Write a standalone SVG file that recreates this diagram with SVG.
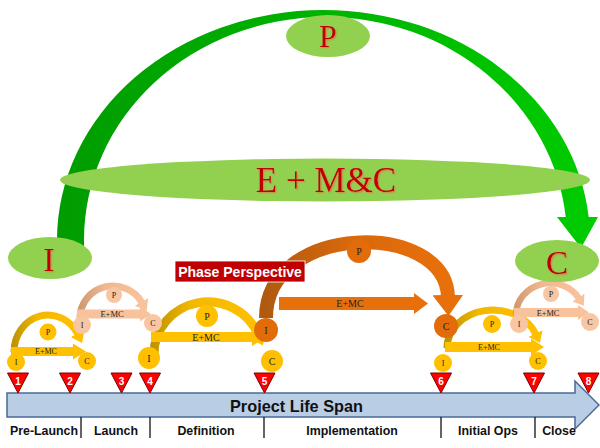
<svg xmlns="http://www.w3.org/2000/svg" width="600" height="448" viewBox="0 0 600 448">
<defs>
<style>
.big{font-family:"Liberation Serif",serif;fill:#c00000;text-anchor:middle;filter:url(#sh)}
.sm{font-family:"Liberation Serif",serif;fill:#222;text-anchor:middle}
.lbl{font-family:"Liberation Serif",serif;fill:#222;text-anchor:middle}
.ph{font-family:"Liberation Sans",Arial,sans-serif;font-weight:bold;font-size:12.4px;fill:#111;text-anchor:middle}
.num{font-family:"Liberation Sans",Arial,sans-serif;font-weight:bold;font-size:10px;fill:#fff;text-anchor:middle}
.tri{fill:#ff0000;stroke:#800000;stroke-width:1}
.gell{fill:#92d050}
.cy{fill:#ffc000}
.cp{fill:#f8c6a2}
.co{fill:#e36c0a}
.div{stroke:#111;stroke-width:1.3}
.crv{fill:none}
</style>
<filter id="sh" x="-20%" y="-20%" width="140%" height="140%">
<feDropShadow dx="1.3" dy="1.3" stdDeviation="0" flood-color="#c89050"/>
</filter>
<linearGradient id="gG" x1="0" y1="0" x2="1" y2="0">
<stop offset="0" stop-color="#009c00"/><stop offset="1" stop-color="#00cc00"/>
</linearGradient>
<linearGradient id="gY" x1="0" y1="0" x2="1" y2="0">
<stop offset="0" stop-color="#bf9400"/><stop offset="0.35" stop-color="#f2b800"/><stop offset="1" stop-color="#ffc000"/>
</linearGradient>
<linearGradient id="gP" x1="0" y1="0" x2="1" y2="0">
<stop offset="0" stop-color="#cf9a72"/><stop offset="0.4" stop-color="#f0b890"/><stop offset="1" stop-color="#f8c29c"/>
</linearGradient>
<linearGradient id="gO" x1="0" y1="0" x2="1" y2="0">
<stop offset="0" stop-color="#b05a10"/><stop offset="0.45" stop-color="#d8680c"/><stop offset="1" stop-color="#e8700a"/>
</linearGradient>
<marker id="mY" viewBox="0 0 10 10" refX="1" refY="5" markerWidth="1.5" markerHeight="2.2" orient="auto" preserveAspectRatio="none"><path d="M0,0 L10,5 L0,10 z" fill="#ffc000"/></marker>
<marker id="mP" viewBox="0 0 10 10" refX="1" refY="5" markerWidth="1.5" markerHeight="2.2" orient="auto" preserveAspectRatio="none"><path d="M0,0 L10,5 L0,10 z" fill="#f8c29c"/></marker>
<marker id="mO" viewBox="0 0 10 10" refX="1" refY="5" markerWidth="1.5" markerHeight="2.2" orient="auto" preserveAspectRatio="none"><path d="M0,0 L10,5 L0,10 z" fill="#e8700a"/></marker>
</defs>

<g id="connectors">
<path id="big-arc" d="M 57 250 L 57 240 A 266.5 230 0 0 1 323.5 10 A 266.5 230 0 0 1 588.664 217 L 598 217 L 581 248 L 557 217 L 565.712 217 A 241.5 223 0 0 0 325.5 17 A 241.5 223 0 0 0 84 240 L 84 250 Z" fill="url(#gG)"/>
<!-- group A -->
<path class="crv" d="M 14 352 A 34 37 0 0 1 78 334.6" stroke="url(#gY)" stroke-width="7" marker-end="url(#mY)"/>
<polygon points="11,347 73,347 73,343.5 86,351.5 73,359.5 73,356 11,356" fill="#ffc000"/>
<!-- group B -->
<path class="crv" d="M 80 318 A 33 32 0 0 1 142 302.7" stroke="url(#gP)" stroke-width="7" marker-end="url(#mP)"/>
<polygon points="77,309.5 140,309.5 140,306.5 151,314 140,321.5 140,318.5 77,318.5" fill="#f8c29c"/>
<!-- group C -->
<path class="crv" d="M 154 354 A 54 52 0 0 1 258 334.3" stroke="url(#gY)" stroke-width="9" marker-end="url(#mY)"/>
<polygon points="151,332 252,332 252,328 266,337 252,346 252,342 151,342" fill="#ffc000"/>
<!-- group D -->
<path class="crv" d="M 266 318 C 266 222 446 220 448 297" stroke="url(#gO)" stroke-width="14" marker-end="url(#mO)"/>
<polygon points="279,297 414,297 414,293 428,303.5 414,314 414,310 279,310" fill="#e8700a"/>
<!-- group E -->
<path class="crv" d="M 447 348 A 46 38 0 0 1 536 334.5" stroke="url(#gY)" stroke-width="7" marker-end="url(#mY)"/>
<polygon points="445,342 531,342 531,338.5 544,347 531,355.5 531,352 445,352" fill="#ffc000"/>
<!-- group F -->
<path class="crv" d="M 516 315 A 34 32 0 0 1 579 298.4" stroke="url(#gP)" stroke-width="6.5" marker-end="url(#mP)"/>
<polygon points="514,308 578,308 578,305 589,312.5 578,320 578,317 514,317" fill="#f8c29c"/>
</g>

<g id="labels-emc">
<text class="lbl" x="46" y="354" font-size="8">E+MC</text>
<text class="lbl" x="112" y="317" font-size="8.5">E+MC</text>
<text class="lbl" x="206" y="340.5" font-size="10">E+MC</text>
<text class="lbl" x="350" y="307" font-size="10">E+MC</text>
<text class="lbl" x="489" y="350" font-size="8">E+MC</text>
<text class="lbl" x="548" y="315.5" font-size="8.3">E+MC</text>
</g>

<g id="node-P"><ellipse class="gell" cx="328" cy="36" rx="42" ry="21"/><text class="big" x="328" y="47" font-size="32">P</text></g>
<g id="node-EMC"><ellipse class="gell" cx="325" cy="180" rx="265" ry="21.5"/><text class="big" x="326" y="192" font-size="35">E + M&amp;C</text></g>
<g id="node-I"><ellipse class="gell" cx="50" cy="258" rx="42" ry="21"/><text class="big" x="49" y="271" font-size="34">I</text></g>
<g id="node-C"><ellipse class="gell" cx="557" cy="261" rx="42" ry="21"/><text class="big" x="557" y="274" font-size="33">C</text></g>

<g id="nodes-A">
<g id="A-I"><circle class="cy" cx="16" cy="362" r="9"/><text class="sm" x="16" y="365" font-size="8">I</text></g>
<g id="A-P"><circle class="cy" cx="48" cy="332" r="8.5"/><text class="sm" x="48" y="335" font-size="8">P</text></g>
<g id="A-C"><circle class="cy" cx="87" cy="361" r="9"/><text class="sm" x="87" y="364" font-size="8">C</text></g>
</g>
<g id="nodes-B">
<g id="B-I"><circle class="cp" cx="82" cy="325" r="9"/><text class="sm" x="82" y="328" font-size="8">I</text></g>
<g id="B-P"><circle class="cp" cx="114" cy="295" r="8"/><text class="sm" x="114" y="298" font-size="8">P</text></g>
<g id="B-C"><circle class="cp" cx="153" cy="323" r="9"/><text class="sm" x="153" y="326" font-size="8">C</text></g>
</g>
<g id="nodes-C">
<g id="C-I"><circle class="cy" cx="149" cy="358" r="11"/><text class="sm" x="149" y="361.5" font-size="10">I</text></g>
<g id="C-P"><circle class="cy" cx="207" cy="316" r="11"/><text class="sm" x="207" y="319.5" font-size="10">P</text></g>
<g id="C-C"><circle class="cy" cx="272" cy="361" r="11"/><text class="sm" x="272" y="364.5" font-size="10">C</text></g>
</g>
<g id="nodes-D">
<g id="D-I"><circle class="co" cx="266" cy="330" r="12"/><text class="sm" x="266" y="333.5" font-size="10">I</text></g>
<g id="D-P"><circle class="co" cx="359" cy="251" r="12"/><text class="sm" x="359" y="254.5" font-size="10">P</text></g>
<g id="D-C"><circle class="co" cx="446" cy="326" r="12"/><text class="sm" x="446" y="329.5" font-size="10">C</text></g>
</g>
<g id="nodes-E">
<g id="E-I"><circle class="cy" cx="443" cy="363" r="9"/><text class="sm" x="443" y="366" font-size="8">I</text></g>
<g id="E-P"><circle class="cy" cx="492" cy="324" r="9"/><text class="sm" x="492" y="327" font-size="8">P</text></g>
<g id="E-C"><circle class="cy" cx="538" cy="361" r="9"/><text class="sm" x="538" y="364" font-size="8">C</text></g>
</g>
<g id="nodes-F">
<g id="F-I"><circle class="cp" cx="519" cy="324" r="9"/><text class="sm" x="519" y="327" font-size="8">I</text></g>
<g id="F-P"><circle class="cp" cx="551" cy="294" r="8"/><text class="sm" x="551" y="297" font-size="8">P</text></g>
<g id="F-C"><circle class="cp" cx="590" cy="322" r="9"/><text class="sm" x="590" y="325" font-size="8">C</text></g>
</g>

<g id="phase-perspective">
<rect x="175" y="261" width="130" height="21" fill="#c00000" stroke="#ffffff" stroke-width="0.8"/>
<text x="240" y="276.5" font-family="Liberation Sans,Arial,sans-serif" font-weight="bold" font-size="14" fill="#fff" text-anchor="middle">Phase Perspective</text>
</g>

<g id="timeline">
<path d="M 7 393 H 575 V 381 L 599 405 L 575 429 V 417 H 7 Z" fill="#b9cde5" stroke="#4a6a98" stroke-width="1.5"/>
<text x="296.5" y="411.5" font-family="Liberation Sans,Arial,sans-serif" font-weight="bold" font-size="16.3" fill="#111" text-anchor="middle">Project Life Span</text>
<line class="div" x1="81" y1="417" x2="81" y2="438"/>
<line class="div" x1="150" y1="417" x2="150" y2="438"/>
<line class="div" x1="264" y1="417" x2="264" y2="438"/>
<line class="div" x1="441" y1="417" x2="441" y2="438"/>
<line class="div" x1="535" y1="417" x2="535" y2="438"/>
<text class="ph" x="44" y="435">Pre-Launch</text>
<text class="ph" x="116" y="435">Launch</text>
<text class="ph" x="206" y="435">Definition</text>
<text class="ph" x="352" y="435">Implementation</text>
<text class="ph" x="488" y="435">Initial Ops</text>
<text class="ph" x="559" y="435">Close</text>
</g>

<g id="milestones">
<g id="m1"><polygon class="tri" points="7.5,373 28.5,373 18,393"/><text class="num" x="18" y="385">1</text></g>
<g id="m2"><polygon class="tri" points="59.5,373 80.5,373 70,393"/><text class="num" x="70" y="385">2</text></g>
<g id="m3"><polygon class="tri" points="111,373 132,373 121.5,393"/><text class="num" x="121.5" y="385">3</text></g>
<g id="m4"><polygon class="tri" points="139.5,373 160.5,373 150,393"/><text class="num" x="150" y="385">4</text></g>
<g id="m5"><polygon class="tri" points="254,373 275,373 264.5,393"/><text class="num" x="264.5" y="385">5</text></g>
<g id="m6"><polygon class="tri" points="430.5,373 451.5,373 441,393"/><text class="num" x="441" y="385">6</text></g>
<g id="m7"><polygon class="tri" points="523.5,373 544.5,373 534,393"/><text class="num" x="534" y="385">7</text></g>
<g id="m8"><polygon class="tri" points="578,373 599,373 588.5,393"/><text class="num" x="588.5" y="385">8</text></g>
</g>
</svg>
